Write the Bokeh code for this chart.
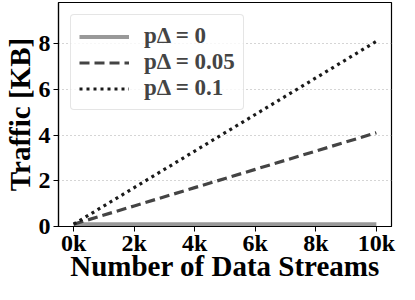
from bokeh.plotting import figure
from bokeh.models import Range1d, FixedTicker, Legend, LegendItem, CustomJSTickFormatter
from bokeh.embed import file_html
from bokeh.resources import INLINE

streams = [0, 2000, 4000, 6000, 8000, 10000]
traffic_p0 = [0.1, 0.1, 0.1, 0.1, 0.1, 0.1]
traffic_p005 = [0.1, 0.9, 1.7, 2.5, 3.3, 4.1]
traffic_p01 = [0.1, 1.7, 3.3, 4.9, 6.5, 8.1]
labels = ["p\u0394 = 0", "p\u0394 = 0.05", "p\u0394 = 0.1"]
x_ticks = [0, 2000, 4000, 6000, 8000, 10000]
y_ticks = [0, 2, 4, 6, 8]

FONT = "Liberation Serif"

p = figure(width=399, height=284, output_backend="svg", toolbar_location=None,
           x_range=Range1d(-500, 10500), y_range=Range1d(0, 9.8),
           min_border_left=56, min_border_right=8, min_border_top=2, min_border_bottom=55)

r0 = p.line(streams, traffic_p0, line_color="#999999", line_width=4)
r1 = p.line(streams, traffic_p005, line_color="#444444", line_width=3.2, line_dash="10 5")
r2 = p.line(streams, traffic_p01, line_color="#1a1a1a", line_width=3.2, line_dash="3 4")

p.xaxis.ticker = FixedTicker(ticks=x_ticks)
p.yaxis.ticker = FixedTicker(ticks=y_ticks)
p.xaxis.formatter = CustomJSTickFormatter(code="return (tick/1000).toFixed(0) + 'k';")
p.xaxis.minor_tick_line_color = None
p.yaxis.minor_tick_line_color = None
for ax in (p.xaxis, p.yaxis):
    ax.major_label_text_font = FONT
    ax.major_label_text_font_style = "bold"
    ax.major_label_text_font_size = "24px"
    ax.major_label_text_color = "black"
    ax.axis_label_text_font = FONT
    ax.axis_label_text_font_style = "bold"
    ax.axis_label_text_font_size = "29px"
    ax.axis_label_text_color = "black"
    ax.axis_line_color = "black"
    ax.major_tick_line_color = "black"
    ax.major_tick_out = 5
    ax.major_tick_in = 0
    ax.axis_line_width = 1.2
p.xaxis.axis_label = "Number of Data Streams"
p.yaxis.axis_label = "Traffic [KB]"
p.xaxis.axis_label_standoff = -9
p.yaxis.axis_label_standoff = 0
p.xaxis.major_label_standoff = -2
p.yaxis.major_label_standoff = 3

p.xgrid.grid_line_color = None
p.ygrid.grid_line_color = "#aaaaaa"
p.ygrid.grid_line_dash = "1 3"
p.ygrid.grid_line_width = 1.2

p.outline_line_color = "black"
p.outline_line_width = 1.2
p.background_fill_color = "white"
p.border_fill_color = "white"

legend = Legend(items=[LegendItem(label=labels[0], renderers=[r0]),
                       LegendItem(label=labels[1], renderers=[r1]),
                       LegendItem(label=labels[2], renderers=[r2])],
                location="top_left")
legend.label_text_font = FONT
legend.label_text_font_style = "bold"
legend.label_text_font_size = "23px"
legend.label_height = 23
legend.glyph_height = 23
legend.glyph_width = 50
legend.label_standoff = 15
legend.spacing = 0
legend.padding = 8
legend.margin = 12
legend.border_line_color = "#cccccc"
legend.border_line_width = 1.2
legend.border_radius = 4
legend.background_fill_alpha = 0.8
p.add_layout(legend)

open("out.html", "w").write(file_html(p, INLINE))
